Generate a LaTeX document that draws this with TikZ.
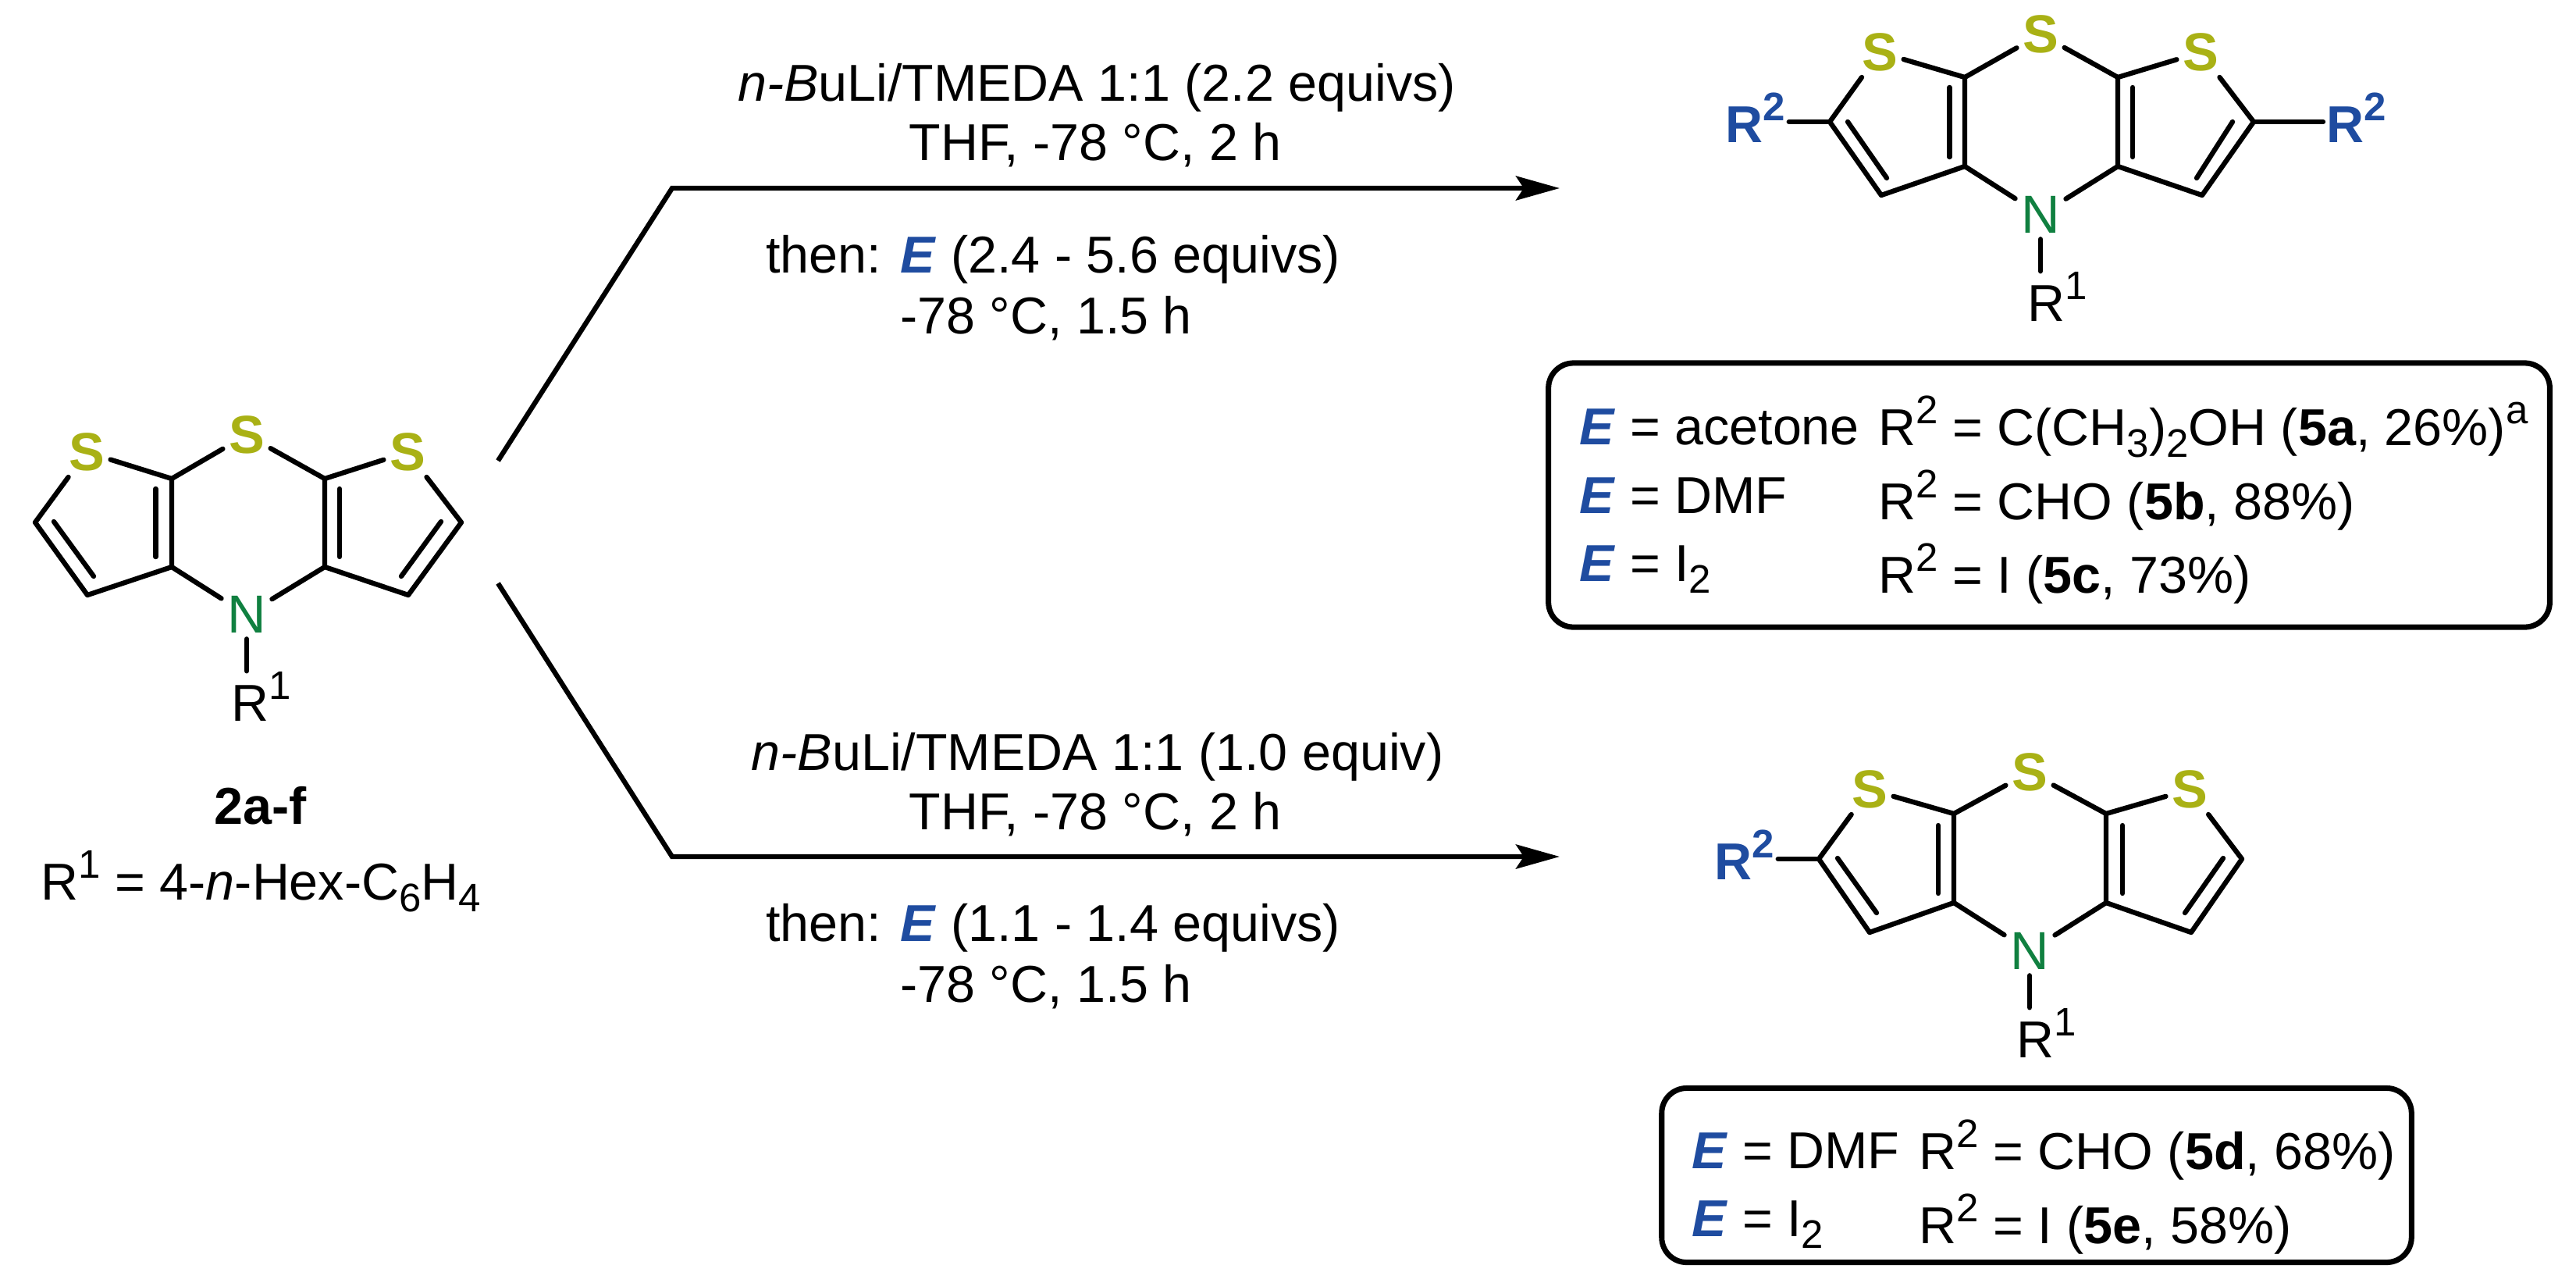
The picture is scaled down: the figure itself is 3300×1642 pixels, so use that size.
\documentclass[tikz,border=0pt]{standalone}
\usepackage{fontspec}
\setmainfont{Liberation Sans}
\usetikzlibrary{arrows.meta}
\definecolor{sulfur}{HTML}{A9B115}
\definecolor{nitrogen}{HTML}{108040}
\definecolor{elecblue}{HTML}{1F4CA0}
\newcommand{\upidx}[1]{\raisebox{.42em}{\fontsize{14.5pt}{14.5pt}\selectfont #1}}
\newcommand{\dnidx}[1]{\raisebox{-.23em}{\fontsize{14.5pt}{14.5pt}\selectfont #1}}
\newcommand{\elec}{\textcolor{elecblue}{\textbf{\textit{E}}}}
\begin{document}
\begin{tikzpicture}
        [x=0.01cm, y=-0.01cm,
         bond/.style={line width=1.8pt, line cap=round, line join=round},
         rxn/.style={line width=1.8pt, line join=miter, -{Stealth[length=.56cm, width=.31cm, inset=.1cm]}},
         txt/.style={font=\fontsize{18.9pt}{22pt}\selectfont, inner sep=0pt},
         cond/.style={txt, anchor=base},
         cell/.style={txt, anchor=base west},
         satom/.style={font=\fontsize{19.5pt}{22pt}\selectfont\bfseries, text=sulfur, inner sep=.07cm},
         natom/.style={font=\fontsize{19.5pt}{22pt}\selectfont, text=nitrogen, inner sep=.07cm},
         rblue/.style={txt, anchor=base west, text=elecblue, inner sep=.04cm},
         tablebox/.style={draw=black, line width=2pt, rounded corners=.32cm, inner sep=0pt}]
        \useasboundingbox (0,0) rectangle (3300,1642);

        % starting material
        \node [satom] (sa1) at (111,579) {S};
        \node [satom] (sa2) at (316,557) {S};
        \node [satom] (sa3) at (522,579) {S};
        \node [natom] (na) at (316,787) {N};
        \coordinate (a1) at (220,613);
        \coordinate (a2) at (220,726);
        \coordinate (a3) at (416,613);
        \coordinate (a4) at (416,726);
        \coordinate (a5) at (45,669);
        \coordinate (a6) at (112,762);
        \coordinate (a7) at (591,669);
        \coordinate (a8) at (523,762);
        \node [cell] (ra) at (296,923) {R\upidx{1}};
        \draw [bond] (sa1) -- (a1) -- (sa2);
        \draw [bond] (sa2) -- (a3) -- (sa3);
        \draw [bond] (a1) -- (a2) -- (na) -- (a4) -- (a3);
        \draw [bond] (sa1) -- (a5) -- (a6) -- (a2);
        \draw [bond] (sa3) -- (a7) -- (a8) -- (a4);
        \draw [bond] (na) -- (na |- ra.north);
        \draw [bond] (69,668) -- (120,738);
        \draw [bond] (199.5,626) -- (199.5,713);
        \draw [bond] (435,626) -- (435,713);
        \draw [bond] (565,668) -- (514,738);
        \node [cond] (namea) at (334,1055) {\textbf{2a-f}};
        \node [cell] (substa) at (52,1152) {R\upidx{1} = 4-\textit{n}-Hex-C\dnidx{6}H\dnidx{4}};

        % upper reaction
        \coordinate (ustart) at (638,590);
        \coordinate (ubend) at (861,241);
        \coordinate (uend) at (1998,241);
        \draw [rxn] (ustart) -- (ubend) -- (uend);
        \node [cond] (u1) at (1405,129) {\textit{n-B}uLi/TMEDA 1:1 (2.2 equivs)};
        \node [cond] (u2) at (1403,205) {THF, -78 °C, 2 h};
        \node [cond] (u3) at (1349,349) {then: \elec{} (2.4 - 5.6 equivs)};
        \node [cond] (u4) at (1340,427) {-78 °C, 1.5 h};

        % lower reaction
        \coordinate (lstart) at (638,747);
        \coordinate (lbend) at (861,1097);
        \coordinate (lend) at (1998,1097);
        \draw [rxn] (lstart) -- (lbend) -- (lend);
        \node [cond] (l1) at (1406,986) {\textit{n-B}uLi/TMEDA 1:1 (1.0 equiv)};
        \node [cond] (l2) at (1403,1062) {THF, -78 °C, 2 h};
        \node [cond] (l3) at (1349,1205) {then: \elec{} (1.1 - 1.4 equivs)};
        \node [cond] (l4) at (1340,1283) {-78 °C, 1.5 h};

        % disubstituted product
        \node [satom] (sb1) at (2408,67) {S};
        \node [satom] (sb2) at (2614,44) {S};
        \node [satom] (sb3) at (2819,67) {S};
        \node [natom] (nb) at (2614,275) {N};
        \coordinate (b1) at (2517,99);
        \coordinate (b2) at (2517,213);
        \coordinate (b3) at (2713,99);
        \coordinate (b4) at (2713,213);
        \coordinate (b5) at (2344,156);
        \coordinate (b6) at (2410,250);
        \coordinate (b7) at (2887,156);
        \coordinate (b8) at (2821,250);
        \node [cell] (rb) at (2597,411) {R\upidx{1}};
        \node [rblue] (rb2l) at (2206,182) {\textbf{R\upidx{2}}};
        \node [rblue] (rb2r) at (2976,182) {\textbf{R\upidx{2}}};
        \draw [bond] (sb1) -- (b1) -- (sb2);
        \draw [bond] (sb2) -- (b3) -- (sb3);
        \draw [bond] (b1) -- (b2) -- (nb) -- (b4) -- (b3);
        \draw [bond] (sb1) -- (b5) -- (b6) -- (b2);
        \draw [bond] (sb3) -- (b7) -- (b8) -- (b4);
        \draw [bond] (nb) -- (nb |- rb.north);
        \draw [bond] (b5) -- (b5 -| rb2l.east);
        \draw [bond] (b7) -- (b7 -| rb2r.west);
        \draw [bond] (2367,156) -- (2417,228);
        \draw [bond] (2497.5,112) -- (2497.5,201);
        \draw [bond] (2732,112) -- (2732,201);
        \draw [bond] (2860,156) -- (2814,228);

        \node [tablebox, minimum width=12.82cm, minimum height=3.38cm] (boxb) at (2625,634) {};
        \node [cell] (eb1) at (2023,569) {\elec{} = acetone};
        \node [cell] (eb2) at (2023,657) {\elec{} = DMF};
        \node [cell] (eb3) at (2023,744) {\elec{} = I\dnidx{2}};
        \node [cell] (pb1) at (2406,570) {R\upidx{2} = C(CH\dnidx{3})\dnidx{2}OH (\textbf{5a}, 26\%)\upidx{a}};
        \node [cell] (pb2) at (2406,665) {R\upidx{2} = CHO (\textbf{5b}, 88\%)};
        \node [cell] (pb3) at (2406,759) {R\upidx{2} = I (\textbf{5c}, 73\%)};

        % monosubstituted product
        \node [satom] (sc1) at (2395,1011) {S};
        \node [satom] (sc2) at (2600,989) {S};
        \node [satom] (sc3) at (2805,1011) {S};
        \node [natom] (nc) at (2600,1218) {N};
        \coordinate (c1) at (2503,1042);
        \coordinate (c2) at (2503,1156);
        \coordinate (c3) at (2698,1042);
        \coordinate (c4) at (2698,1156);
        \coordinate (c5) at (2330,1100);
        \coordinate (c6) at (2395,1194);
        \coordinate (c7) at (2872,1100);
        \coordinate (c8) at (2807,1194);
        \node [cell] (rc) at (2583,1354) {R\upidx{1}};
        \node [rblue] (rc2) at (2192,1126) {\textbf{R\upidx{2}}};
        \draw [bond] (sc1) -- (c1) -- (sc2);
        \draw [bond] (sc2) -- (c3) -- (sc3);
        \draw [bond] (c1) -- (c2) -- (nc) -- (c4) -- (c3);
        \draw [bond] (sc1) -- (c5) -- (c6) -- (c2);
        \draw [bond] (sc3) -- (c7) -- (c8) -- (c4);
        \draw [bond] (nc) -- (nc |- rc.north);
        \draw [bond] (c5) -- (c5 -| rc2.east);
        \draw [bond] (2354,1099) -- (2404,1169);
        \draw [bond] (2483,1057) -- (2483,1144);
        \draw [bond] (2719,1057) -- (2719,1144);
        \draw [bond] (2848,1099) -- (2799,1169);

        \node [tablebox, minimum width=9.6cm, minimum height=2.23cm] (boxc) at (2609,1505) {};
        \node [cell] (ec1) at (2167,1496) {\elec{} = DMF};
        \node [cell] (ec2) at (2167,1583) {\elec{} = I\dnidx{2}};
        \node [cell] (pc1) at (2458,1497) {R\upidx{2} = CHO (\textbf{5d}, 68\%)};
        \node [cell] (pc2) at (2458,1592) {R\upidx{2} = I (\textbf{5e}, 58\%)};
    \end{tikzpicture}
\end{document}
